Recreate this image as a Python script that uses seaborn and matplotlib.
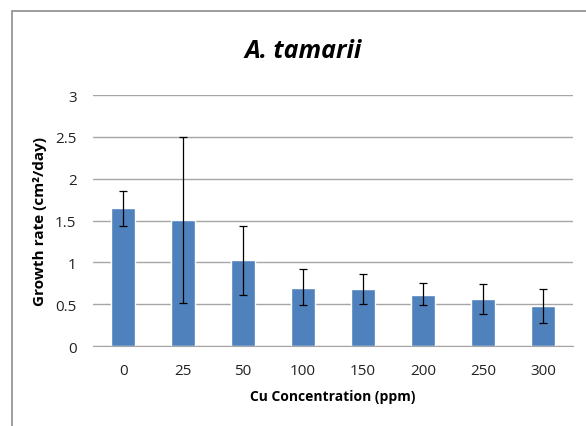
import numpy as np
import pandas as pd
import seaborn as sns
import matplotlib.pyplot as plt
from matplotlib.patches import Rectangle

# data
concentrations = ["0", "25", "50", "100", "150", "200", "250", "300"]
growth_rate = [1.65, 1.51, 1.03, 0.70, 0.68, 0.61, 0.56, 0.48]
err_low = [0.21, 0.99, 0.42, 0.21, 0.18, 0.12, 0.17, 0.20]
err_high = [0.20, 0.99, 0.41, 0.22, 0.18, 0.15, 0.18, 0.20]

df = pd.DataFrame({"Cu": concentrations, "rate": growth_rate})

sns.set_style("white")
plt.rcParams['font.family'] = ['Open Sans', 'DejaVu Sans']

fig = plt.figure(figsize=(5.86, 4.27), dpi=100)
ax = fig.add_axes([0.159, 0.187, 0.819, 0.588])

sns.barplot(data=df, x="Cu", y="rate", color="#4F81BD", saturation=1,
            width=0.39, errorbar=None, ax=ax)
ax.errorbar(np.arange(len(concentrations)), growth_rate,
            yerr=[err_low, err_high], fmt="none", ecolor="black",
            elinewidth=0.9, capsize=3, capthick=0.9)

ax.set_ylim(0, 3)
ax.set_xlim(-0.5, len(concentrations) - 0.5)
ax.set_yticks(np.arange(0, 3.01, 0.5))
ax.set_yticklabels(["0", "0.5", "1", "1.5", "2", "2.5", "3"])
ax.yaxis.grid(True, color="#A6A6A6", linewidth=1)
ax.set_axisbelow(True)
for s in ["top", "right", "left"]:
    ax.spines[s].set_visible(False)
ax.spines["bottom"].set_color("#A6A6A6")
ax.tick_params(axis="both", length=0, labelsize=11, colors="#222222")
ax.tick_params(axis="x", pad=12)
ax.tick_params(axis="y", pad=12)

ax.set_xlabel("Cu Concentration (ppm)", fontsize=10, fontweight="bold",
              labelpad=8, color="black")
ax.set_ylabel("Growth rate (cm\u00b2/day)", fontsize=11, fontweight="bold",
              labelpad=6, color="black")
fig.text(0.518, 0.88, "A. tamarii", fontsize=18, fontweight="bold",
         style="italic", ha="center", va="center", color="black")

# outer chart frame
fig.patches.append(Rectangle((12 / 586, -0.1), 1.1, 1.1 - 12 / 427,
                             transform=fig.transFigure, fill=False,
                             edgecolor="#8C8C8C", linewidth=1.2))

fig.savefig("out.png", dpi=100)
